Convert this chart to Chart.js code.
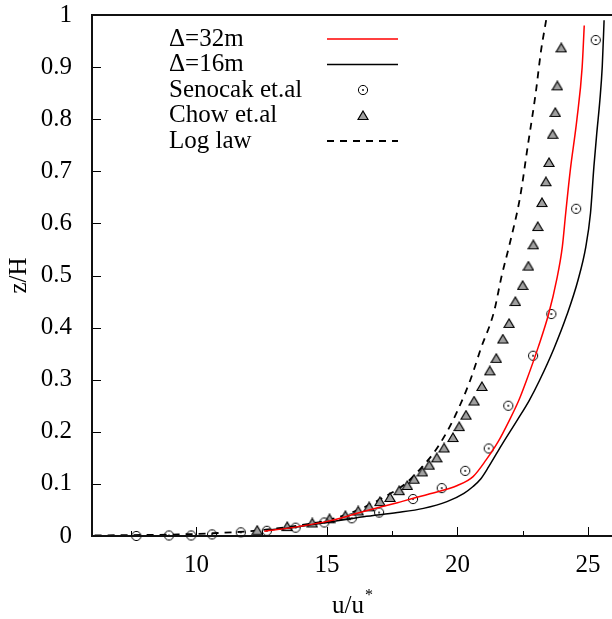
<!DOCTYPE html>
<html>
<head>
<meta charset="utf-8">
<script src="https://cdn.jsdelivr.net/npm/chart.js@4.4.0/dist/chart.umd.min.js"></script>
<style>
  html, body { margin: 0; padding: 0; background: #fff; overflow: hidden; }
  canvas { display: block; }
</style>
</head>
<body>
<canvas id="chart" width="620" height="619"></canvas>
<script>
// values: u/u* against z/H
const coarseU = [12.6, 13.9, 15.1, 16.4, 17.7, 18.95, 20.0, 20.6, 21.1, 21.55, 22.0, 22.35, 22.65, 23.1, 23.5, 23.8, 24.02, 24.15, 24.32, 24.58, 24.78, 24.86];
const coarseZ = [0.009, 0.018, 0.029, 0.047, 0.064, 0.081, 0.097, 0.114, 0.146, 0.18, 0.223, 0.26, 0.299, 0.363, 0.427, 0.491, 0.555, 0.62, 0.7, 0.8, 0.9, 0.98];

const fineU = [12.8, 13.8, 15.1, 16.4, 17.7, 18.7, 19.6, 20.25, 20.6, 20.9, 21.2, 21.7, 22.3, 22.75, 23.15, 23.7, 24.2, 24.62, 24.92, 25.1, 25.23, 25.34, 25.46, 25.55, 25.62];
const fineZ = [0.0115, 0.017, 0.027, 0.037, 0.045, 0.053, 0.066, 0.082, 0.095, 0.11, 0.133, 0.175, 0.223, 0.26, 0.299, 0.36, 0.425, 0.491, 0.555, 0.62, 0.709, 0.773, 0.837, 0.901, 0.99];

const senocakU = [7.7, 8.95, 9.8, 10.6, 11.7, 12.7, 13.8, 14.9, 15.95, 17.0, 18.3, 19.4, 20.3, 21.2, 21.95, 22.9, 23.6, 24.55, 25.3];
const senocakZ = [0.0, 0.001, 0.001, 0.003, 0.007, 0.01, 0.016, 0.026, 0.034, 0.045, 0.071, 0.092, 0.125, 0.168, 0.25, 0.346, 0.426, 0.628, 0.952];

const chowU = [12.33, 13.48, 14.44, 15.1, 15.71, 16.2, 16.62, 17.03, 17.42, 17.77, 18.08, 18.34, 18.66, 18.92, 19.21, 19.49, 19.83, 20.07, 20.33, 20.64, 20.94, 21.24, 21.49, 21.74, 21.98, 22.22, 22.5, 22.72, 22.91, 23.08, 23.24, 23.39, 23.51, 23.65, 23.75, 23.83, 23.98];
const chowZ = [0.011, 0.018, 0.025, 0.033, 0.039, 0.048, 0.056, 0.066, 0.074, 0.087, 0.097, 0.109, 0.123, 0.136, 0.15, 0.169, 0.189, 0.21, 0.232, 0.259, 0.287, 0.317, 0.341, 0.378, 0.408, 0.45, 0.481, 0.518, 0.559, 0.594, 0.64, 0.68, 0.717, 0.771, 0.813, 0.864, 0.937];

const logLawU = [6.1, 9.3, 10.5, 12.2, 13.9, 15.0, 16.2, 17.2, 18.0, 18.6, 19.1, 19.6, 20.0, 20.5, 20.9, 21.4, 21.7, 22.0, 22.4, 22.7, 23.0, 23.2, 23.4];
const logLawZ = [0.001, 0.003, 0.005, 0.01, 0.02, 0.03, 0.05, 0.075, 0.1, 0.13, 0.16, 0.2, 0.24, 0.3, 0.36, 0.43, 0.5, 0.56, 0.65, 0.75, 0.85, 0.93, 0.99];

const xMajorTicks = [10, 15, 20, 25];
const xMinorTicks = [7.5, 12.5, 17.5, 22.5];
const yTicks = [0, 0.1, 0.2, 0.3, 0.4, 0.5, 0.6, 0.7, 0.8, 0.9, 1];

const FONT = '"Liberation Serif", "DejaVu Serif", serif';

function toPoints(us, zs) {
    return us.map((u, i) => ({ x: u, y: zs[i] }));
}

// gnuplot-like marker glyphs
function makeCircle() {
    const c = document.createElement('canvas');
    c.width = 12; c.height = 12;
    const g = c.getContext('2d');
    g.strokeStyle = '#000';
    g.lineWidth = 1;
    g.beginPath();
    g.arc(6, 6, 4.6, 0, Math.PI * 2);
    g.stroke();
    g.fillStyle = '#000';
    g.beginPath();
    g.arc(6, 6, 0.9, 0, Math.PI * 2);
    g.fill();
    return c;
}

function makeTriangle() {
    const c = document.createElement('canvas');
    c.width = 12; c.height = 11;
    const g = c.getContext('2d');
    g.beginPath();
    g.moveTo(6, 1);
    g.lineTo(11, 9.5);
    g.lineTo(1, 9.5);
    g.closePath();
    g.fillStyle = '#a0a0a0';
    g.fill();
    g.strokeStyle = '#000';
    g.lineWidth = 1.2;
    g.stroke();
    return c;
}

const circleImg = makeCircle();
const triangleImg = makeTriangle();

const framePlugin = {
    id: 'frame',
    beforeDatasetsDraw(chart) {
        const { ctx, chartArea: a, scales } = chart;
        ctx.save();
        ctx.strokeStyle = '#000';
        ctx.lineWidth = 1;
        xMajorTicks.forEach(v => {
            const px = Math.round(scales.x.getPixelForValue(v)) + 0.5;
            ctx.beginPath(); ctx.moveTo(px, a.bottom); ctx.lineTo(px, a.bottom - 9); ctx.stroke();
        });
        xMinorTicks.forEach(v => {
            const px = Math.round(scales.x.getPixelForValue(v)) + 0.5;
            ctx.beginPath(); ctx.moveTo(px, a.bottom); ctx.lineTo(px, a.bottom - 5); ctx.stroke();
        });
        yTicks.slice(1, -1).forEach(v => {
            const py = Math.round(scales.y.getPixelForValue(v)) + 0.5;
            ctx.beginPath(); ctx.moveTo(a.left, py); ctx.lineTo(a.left + 9, py); ctx.stroke();
        });
        ctx.restore();
    },
    afterDraw(chart) {
        const { ctx, chartArea: a } = chart;
        ctx.save();
        ctx.strokeStyle = '#111';
        ctx.lineWidth = 2;
        ctx.strokeRect(a.left, a.top, a.right - a.left, a.bottom - a.top);

        // axis titles
        ctx.fillStyle = '#000';
        ctx.font = '25px ' + FONT;
        ctx.textAlign = 'center';
        ctx.textBaseline = 'alphabetic';
        ctx.fillText('u/u', 348, 613);
        ctx.font = '16px ' + FONT;
        ctx.textAlign = 'left';
        ctx.fillText('*', 365, 600);
        ctx.font = '25px ' + FONT;
        ctx.translate(26, (a.top + a.bottom) / 2);
        ctx.rotate(-Math.PI / 2);
        ctx.textAlign = 'center';
        ctx.fillText('z/H', 0, 0);
        ctx.restore();

        // key, text left and sample right
        ctx.save();
        ctx.font = '25px ' + FONT;
        ctx.textAlign = 'left';
        ctx.textBaseline = 'middle';
        chart.data.datasets.forEach((ds, i) => {
            const y = 39 + i * 25.5;
            ctx.fillStyle = '#000';
            ctx.fillText(ds.label, 169, y);
            if (ds.showLine) {
                ctx.strokeStyle = ds.borderColor;
                ctx.lineWidth = ds.borderWidth;
                ctx.setLineDash(ds.borderDash || []);
                ctx.beginPath(); ctx.moveTo(327, y); ctx.lineTo(398, y); ctx.stroke();
                ctx.setLineDash([]);
            } else {
                const img = ds.pointStyle;
                ctx.drawImage(img, 363 - img.width / 2, y - img.height / 2);
            }
        });
        ctx.restore();
    }
};

new Chart(document.getElementById('chart'), {
    type: 'scatter',
    data: {
        datasets: [
            {
                label: '\u0394=32m',
                data: toPoints(coarseU, coarseZ),
                showLine: true,
                borderColor: '#ff0000',
                borderWidth: 1.5,
                pointRadius: 0,
                cubicInterpolationMode: 'monotone'
            },
            {
                label: '\u0394=16m',
                data: toPoints(fineU, fineZ),
                showLine: true,
                borderColor: '#000',
                borderWidth: 1.5,
                pointRadius: 0,
                cubicInterpolationMode: 'monotone'
            },
            {
                label: 'Senocak et.al',
                data: toPoints(senocakU, senocakZ),
                showLine: false,
                pointStyle: circleImg,
                clip: false
            },
            {
                label: 'Chow et.al',
                data: toPoints(chowU, chowZ),
                showLine: false,
                pointStyle: triangleImg,
                clip: false
            },
            {
                label: 'Log law',
                data: toPoints(logLawU, logLawZ),
                showLine: true,
                borderColor: '#000',
                borderWidth: 1.8,
                borderDash: [7, 6],
                pointRadius: 0,
                cubicInterpolationMode: 'monotone'
            }
        ]
    },
    options: {
        responsive: false,
        animation: false,
        layout: { padding: { top: 15, right: 6, left: 0, bottom: 0 } },
        plugins: { legend: { display: false }, tooltip: { enabled: false } },
        scales: {
            x: {
                type: 'linear',
                min: 6,
                max: 26,
                grid: { display: false },
                border: { display: false },
                afterBuildTicks: (scale) => { scale.ticks = xMajorTicks.map(v => ({ value: v })); },
                afterFit: (scale) => {
                    scale.height = 83;
                    scale.paddingLeft = 0;
                    scale.paddingRight = 0;
                },
                ticks: {
                    color: '#000',
                    font: { family: FONT, size: 25 },
                    padding: 6,
                    maxRotation: 0
                }
            },
            y: {
                type: 'linear',
                min: 0,
                max: 1,
                grid: { display: false },
                border: { display: false },
                afterBuildTicks: (scale) => { scale.ticks = yTicks.map(v => ({ value: v })); },
                afterFit: (scale) => {
                    scale.width = 92;
                    scale.paddingTop = 0;
                    scale.paddingBottom = 0;
                },
                ticks: {
                    color: '#000',
                    font: { family: FONT, size: 25 },
                    padding: 12,
                    callback: (v) => String(Math.round(v * 10) / 10)
                }
            }
        }
    },
    plugins: [framePlugin]
});
</script>
</body>
</html>
